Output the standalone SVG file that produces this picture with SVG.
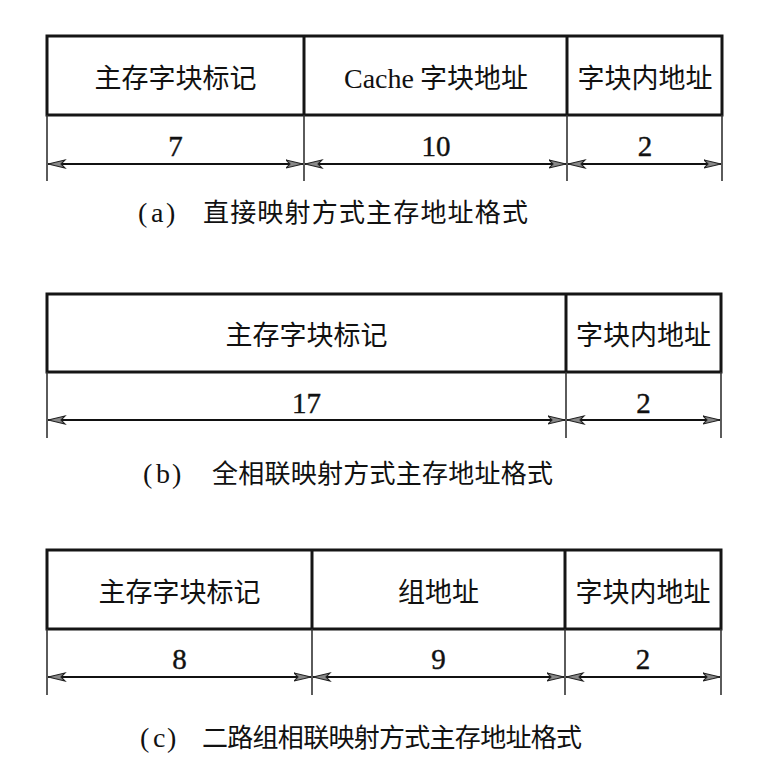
<svg xmlns="http://www.w3.org/2000/svg" width="779" height="765" viewBox="0 0 779 765">
<defs>
<style>
.box{fill:none;stroke:#151515;stroke-width:3}
.sep{stroke:#151515;stroke-width:3}
.tick{stroke:#333;stroke-width:1.6}
.arr{stroke:#111;stroke-width:2.2;marker-start:url(#ah-s);marker-end:url(#ah-e)}
.lbl{font-family:"Noto Sans CJK SC","Noto Sans",sans-serif;font-size:27px;fill:#111;text-anchor:middle}
.lat{font-family:"Liberation Serif","Noto Sans CJK SC",serif}
.num{font-family:"Liberation Serif",serif;font-size:29px;fill:#111;stroke:#111;stroke-width:0.4;text-anchor:middle}
.cap{font-family:"Noto Sans CJK SC",sans-serif;font-size:26px;fill:#111}
.capl{font-family:"Liberation Serif",serif;font-size:28px;fill:#111}
</style>
<marker id="ah-e" markerUnits="userSpaceOnUse" markerWidth="20" markerHeight="12" refX="17" refY="6" orient="auto">
<path d="M0,2 L17,6 L0,10 L4,6 z" fill="#888" stroke="#222" stroke-width="1.1"/>
</marker>
<marker id="ah-s" markerUnits="userSpaceOnUse" markerWidth="20" markerHeight="12" refX="0" refY="6" orient="auto">
<path d="M17,2 L0,6 L17,10 L13,6 z" fill="#888" stroke="#222" stroke-width="1.1"/>
</marker>
</defs>

<!-- (a) direct mapping -->
<g id="fmt-a">
<g id="a-tag"><text class="lbl" x="175.5" y="88">主存字块标记</text><text class="num" x="175.5" y="156">7</text></g>
<g id="a-cache"><text class="lbl" x="436" y="88"><tspan class="lat" font-size="28">Cache</tspan> 字块地址</text><text class="num" x="436" y="156">10</text></g>
<g id="a-word"><text class="lbl" x="645" y="88">字块内地址</text><text class="num" x="645" y="156">2</text></g>
</g>

<!-- (b) fully associative -->
<g id="fmt-b">
<g id="b-tag"><text class="lbl" x="306.5" y="345">主存字块标记</text><text class="num" x="306.5" y="413">17</text></g>
<g id="b-word"><text class="lbl" x="643.5" y="345">字块内地址</text><text class="num" x="643.5" y="413">2</text></g>
</g>

<!-- (c) two-way set associative -->
<g id="fmt-c">
<g id="c-tag"><text class="lbl" x="179.5" y="602">主存字块标记</text><text class="num" x="179.5" y="669">8</text></g>
<g id="c-set"><text class="lbl" x="438.5" y="602">组地址</text><text class="num" x="438.5" y="669">9</text></g>
<g id="c-word"><text class="lbl" x="643" y="602">字块内地址</text><text class="num" x="643" y="669">2</text></g>
</g>

<g id="connectors">
<!-- (a) -->
<rect class="box" x="47" y="36" width="675" height="79"/>
<line class="sep" x1="304" y1="36" x2="304" y2="115"/>
<line class="sep" x1="567" y1="36" x2="567" y2="115"/>
<line class="tick" x1="47" y1="115" x2="47" y2="181"/>
<line class="tick" x1="304" y1="115" x2="304" y2="181"/>
<line class="tick" x1="567" y1="115" x2="567" y2="181"/>
<line class="tick" x1="722" y1="115" x2="722" y2="181"/>
<line class="arr" x1="48" y1="164" x2="303" y2="164"/>
<line class="arr" x1="305" y1="164" x2="566" y2="164"/>
<line class="arr" x1="568" y1="164" x2="721" y2="164"/>
<!-- (b) -->
<rect class="box" x="47" y="294" width="674" height="78"/>
<line class="sep" x1="566" y1="294" x2="566" y2="372"/>
<line class="tick" x1="47" y1="372" x2="47" y2="438"/>
<line class="tick" x1="566" y1="372" x2="566" y2="438"/>
<line class="tick" x1="721" y1="372" x2="721" y2="438"/>
<line class="arr" x1="48" y1="420" x2="565" y2="420"/>
<line class="arr" x1="567" y1="420" x2="720" y2="420"/>
<!-- (c) -->
<rect class="box" x="47" y="550" width="674" height="79"/>
<line class="sep" x1="312" y1="550" x2="312" y2="629"/>
<line class="sep" x1="565" y1="550" x2="565" y2="629"/>
<line class="tick" x1="47" y1="629" x2="47" y2="695"/>
<line class="tick" x1="312" y1="629" x2="312" y2="695"/>
<line class="tick" x1="565" y1="629" x2="565" y2="695"/>
<line class="tick" x1="721" y1="629" x2="721" y2="695"/>
<line class="arr" x1="48" y1="677" x2="311" y2="677"/>
<line class="arr" x1="313" y1="677" x2="564" y2="677"/>
<line class="arr" x1="566" y1="677" x2="720" y2="677"/>
</g>

<g id="captions">
<text id="cap-a" y="222"><tspan class="capl" x="138">(</tspan><tspan class="capl" x="151">a</tspan><tspan class="capl" x="166">)</tspan><tspan class="cap" x="203" textLength="325">直接映射方式主存地址格式</tspan></text>
<text id="cap-b" y="483"><tspan class="capl" x="143">(</tspan><tspan class="capl" x="156">b</tspan><tspan class="capl" x="172">)</tspan><tspan class="cap" x="212" textLength="341">全相联映射方式主存地址格式</tspan></text>
<text id="cap-c" y="747"><tspan class="capl" x="140">(</tspan><tspan class="capl" x="153">c</tspan><tspan class="capl" x="167">)</tspan><tspan class="cap" x="202" textLength="380">二路组相联映射方式主存地址格式</tspan></text>
</g>
</svg>
